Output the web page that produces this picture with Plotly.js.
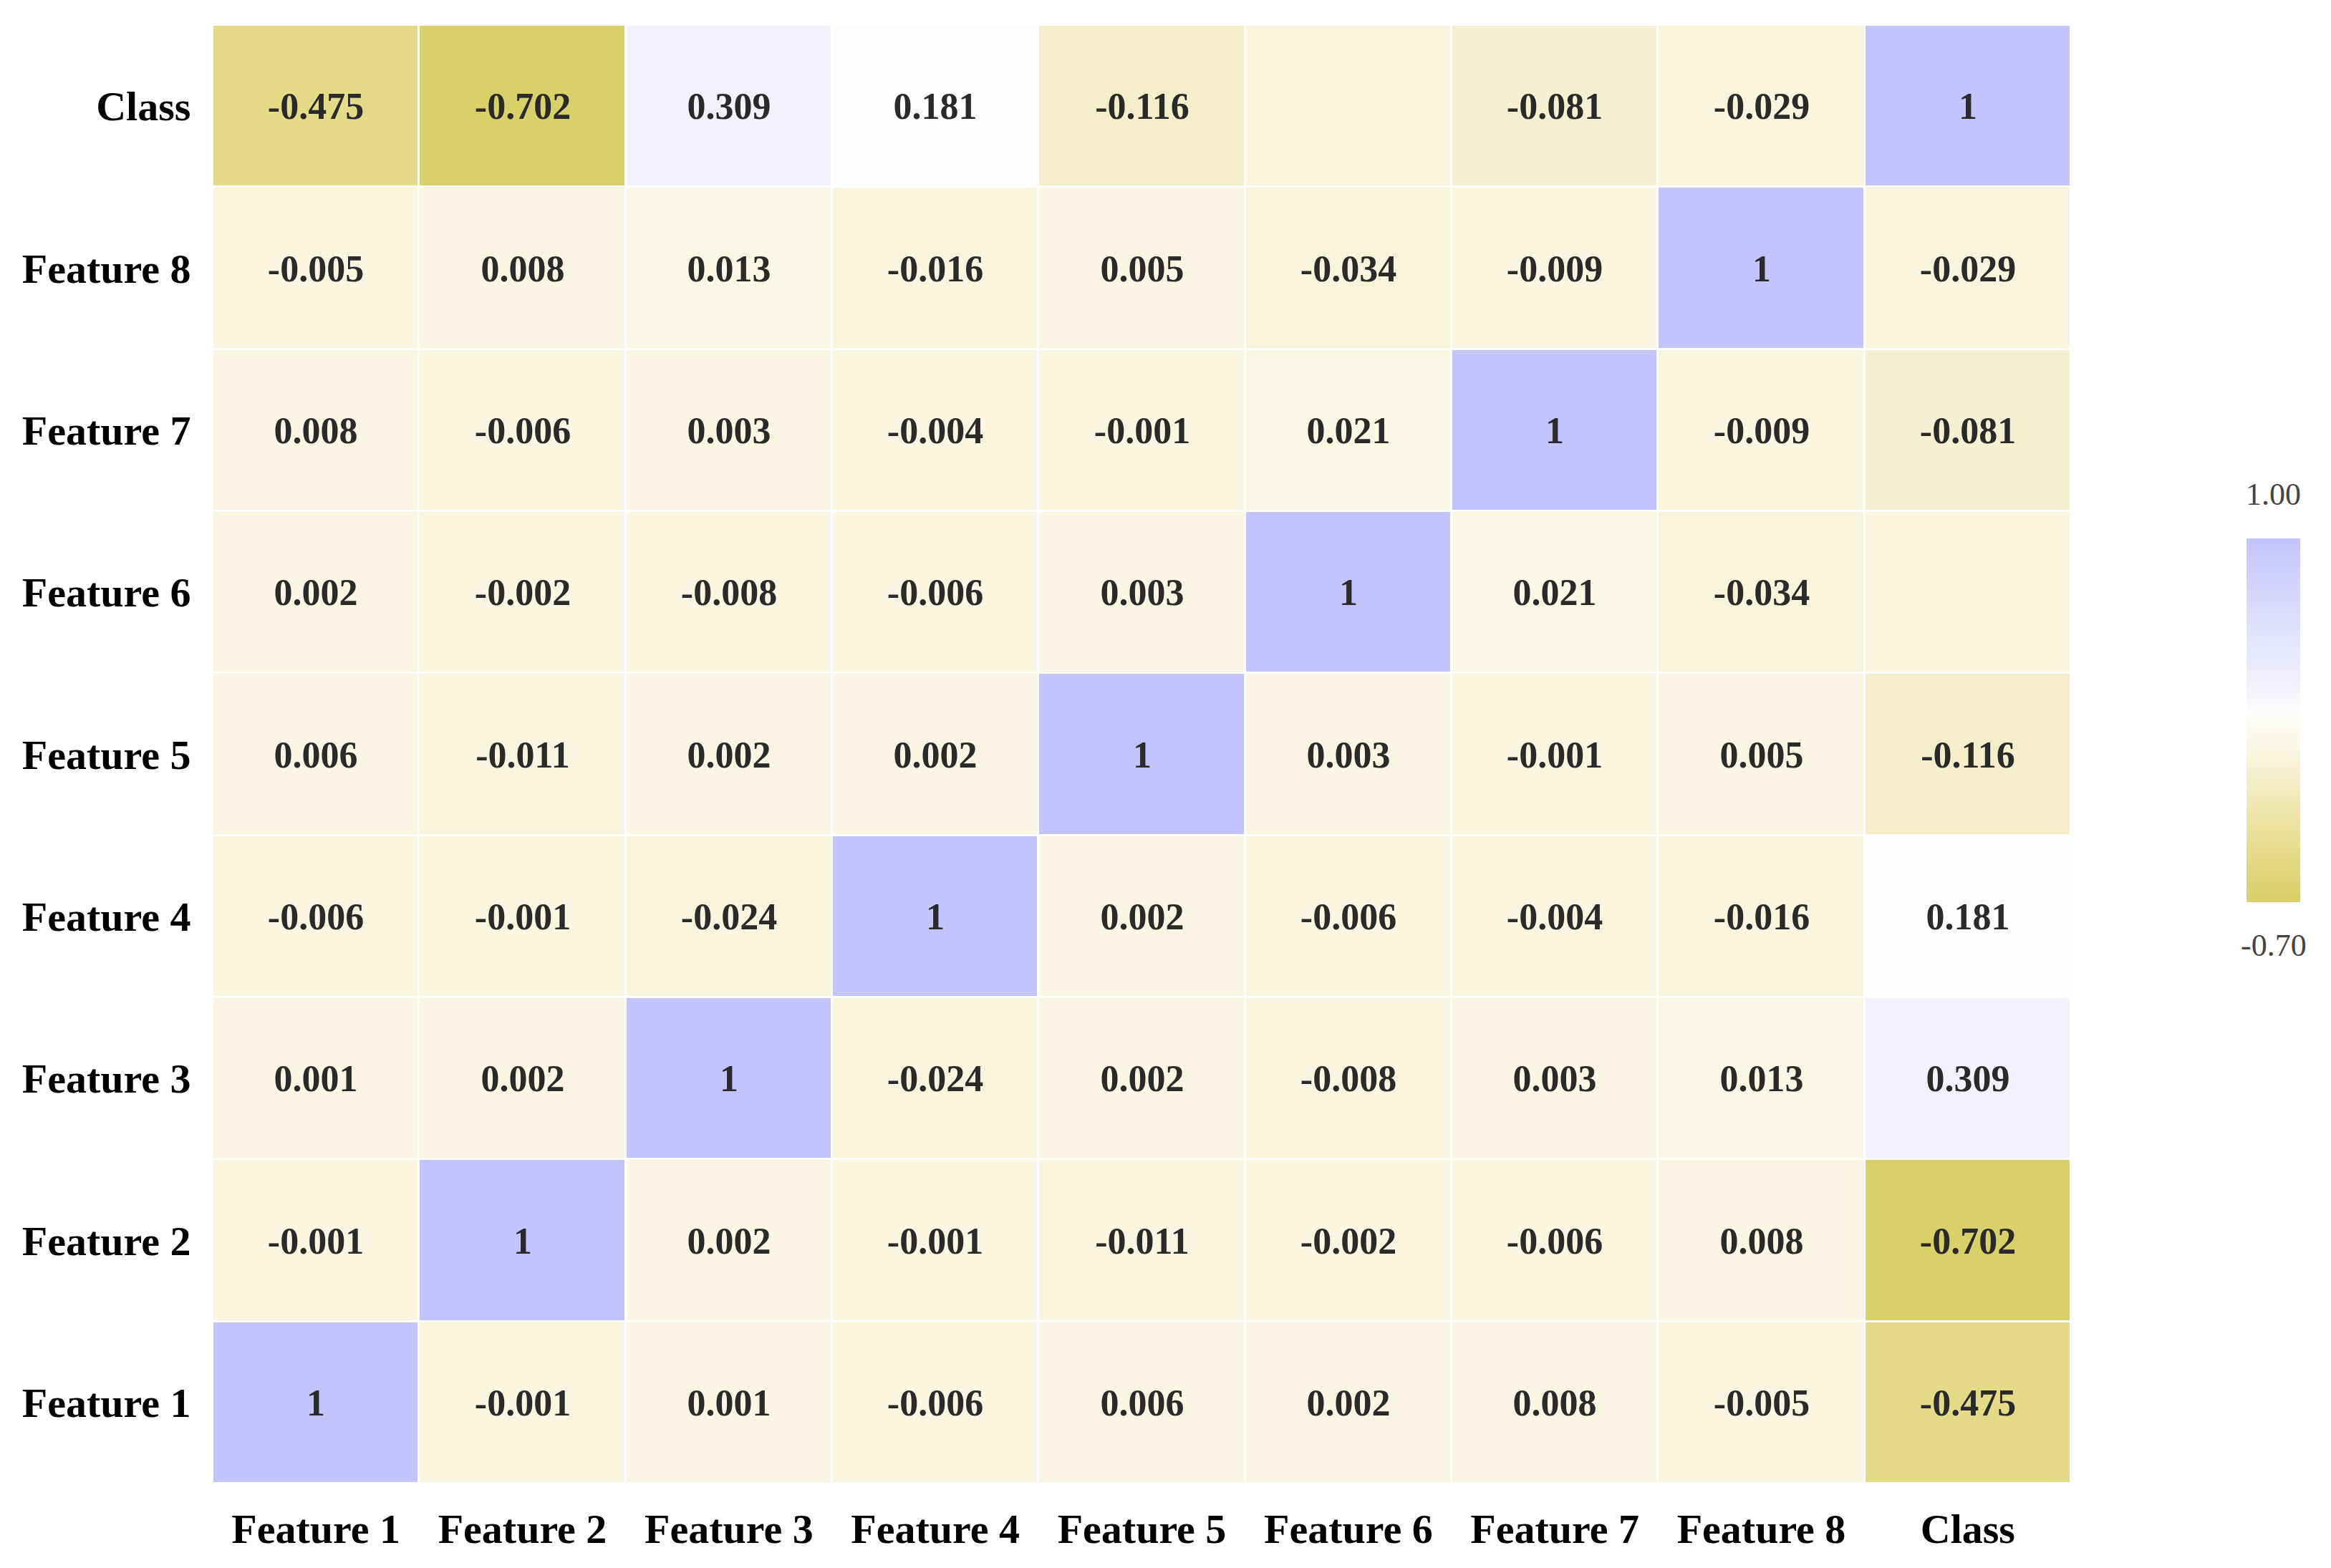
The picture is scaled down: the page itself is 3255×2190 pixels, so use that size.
<!DOCTYPE html>
<html>
<head>
<meta charset="utf-8">
<script src="https://cdn.plot.ly/plotly-3.0.1.min.js"></script>
<style>
  html, body { margin: 0; padding: 0; background: #fff; }
  #chart { width: 3255px; height: 2190px; }
</style>
</head>
<body>
<div id="chart"></div>
<script>
// Axis categories (rows listed bottom to top)
const labels = ['Feature 1', 'Feature 2', 'Feature 3', 'Feature 4', 'Feature 5',
                'Feature 6', 'Feature 7', 'Feature 8', 'Class'];

// Correlation rows, one per label
const rowF1    = [1, -0.001, 0.001, -0.006, 0.006, 0.002, 0.008, -0.005, -0.475];
const rowF2    = [-0.001, 1, 0.002, -0.001, -0.011, -0.002, -0.006, 0.008, -0.702];
const rowF3    = [0.001, 0.002, 1, -0.024, 0.002, -0.008, 0.003, 0.013, 0.309];
const rowF4    = [-0.006, -0.001, -0.024, 1, 0.002, -0.006, -0.004, -0.016, 0.181];
const rowF5    = [0.006, -0.011, 0.002, 0.002, 1, 0.003, -0.001, 0.005, -0.116];
const rowF6    = [0.002, -0.002, -0.008, -0.006, 0.003, 1, 0.021, -0.034, 0];
const rowF7    = [0.008, -0.006, 0.003, -0.004, -0.001, 0.021, 1, -0.009, -0.081];
const rowF8    = [-0.005, 0.008, 0.013, -0.016, 0.005, -0.034, -0.009, 1, -0.029];
const rowClass = [-0.475, -0.702, 0.309, 0.181, -0.116, 0, -0.081, -0.029, 1];

const zRows = [rowF1, rowF2, rowF3, rowF4, rowF5, rowF6, rowF7, rowF8, rowClass];

// Colour range and labels shown beside the colour bar
const zMin = -0.70;
const zMax = 1.00;
const barLabels = ['1.00', '-0.70'];

// Cell text: "1" on the diagonal, zero cells left blank, otherwise 3 decimals
const cellText = zRows.map(r => r.map(v => v === 1 ? '1' : (v === 0 ? '' : v.toFixed(3))));

const serif = '"Liberation Serif", "Times New Roman", Times, serif';

const trace = {
  type: 'heatmap',
  x: labels,
  y: labels,
  z: zRows,
  text: cellText,
  texttemplate: '%{text}',
  textfont: { family: serif, size: 52, color: '#2a2a2a', weight: 'bold' },
  zmin: zMin,
  zmax: zMax,
  xgap: 3,
  ygap: 3,
  colorscale: [
    [0.000, '#d8d068'],
    [0.132, '#e3db88'],
    [0.345, '#f4eecb'],
    [0.410, '#faf6e2'],
    [0.518, '#fdfdfb'],
    [0.594, '#f2f2fd'],
    [1.000, '#c4c4fc']
  ],
  colorbar: {
    x: 1.0944, xanchor: 'left', xpad: 0,
    y: 0.5233, yanchor: 'middle', ypad: 0,
    thickness: 75,
    lenmode: 'pixels', len: 508,
    outlinewidth: 0,
    showticklabels: false,
    ticks: ''
  },
  hoverinfo: 'skip'
};

const layout = {
  width: 3255,
  height: 2190,
  margin: { l: 297, r: 363, t: 35, b: 118 },
  paper_bgcolor: '#ffffff',
  plot_bgcolor: '#ffffff',
  font: { family: serif, color: '#000' },
  xaxis: {
    type: 'category',
    showgrid: false, zeroline: false, showline: false,
    ticks: 'outside', ticklen: 12, tickcolor: 'rgba(0,0,0,0)',
    tickfont: { family: serif, size: 58, color: '#000', weight: 'bold' }
  },
  yaxis: {
    type: 'category',
    showgrid: false, zeroline: false, showline: false,
    ticks: 'outside', ticklen: 18, tickcolor: 'rgba(0,0,0,0)',
    tickfont: { family: serif, size: 58, color: '#000', weight: 'bold' }
  },
  annotations: [
    { xref: 'paper', yref: 'paper', x: 1.109, y: 0.678, xanchor: 'center', yanchor: 'middle',
      text: barLabels[0], showarrow: false, font: { family: serif, size: 44, color: '#444' } },
    { xref: 'paper', yref: 'paper', x: 1.109, y: 0.369, xanchor: 'center', yanchor: 'middle',
      text: barLabels[1], showarrow: false, font: { family: serif, size: 44, color: '#444' } }
  ]
};

Plotly.newPlot('chart', [trace], layout, { displayModeBar: false, staticPlot: true });
</script>
</body>
</html>
